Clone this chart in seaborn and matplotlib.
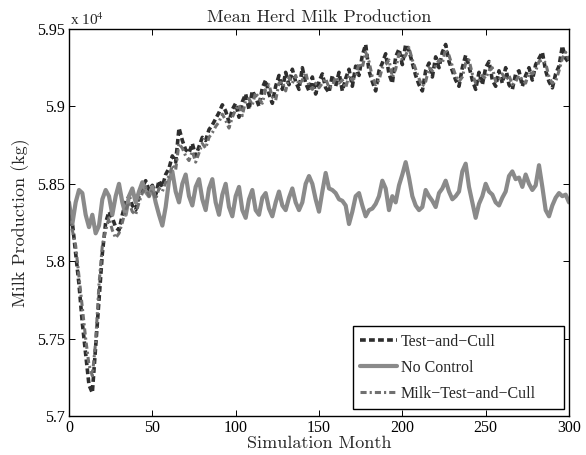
import numpy as np
import matplotlib
matplotlib.use("Agg")
import matplotlib.pyplot as plt
from matplotlib.patches import Rectangle
import seaborn as sns

# simulation month, sampled every 2 months
months = np.arange(0, 301, 2)

# mean herd milk production (kg)
test_and_cull = [
    58350, 58250, 58050, 57850, 57600, 57400, 57200, 57150, 57450, 57750,
    58050, 58250, 58320, 58280, 58220, 58200, 58300, 58380, 58420, 58360,
    58330, 58420, 58480, 58520, 58460, 58490, 58430, 58520, 58480, 58560,
    58600, 58680, 58640, 58860, 58780, 58720, 58700, 58760, 58680, 58740,
    58800, 58780, 58850, 58880, 58920, 58960, 59010, 58970, 58900, 58980,
    59020, 58930, 59030, 59080, 58980, 59100, 59060, 59000, 59120, 59170,
    59080, 59020, 59130, 59200, 59110, 59220, 59140, 59240, 59160, 59110,
    59250, 59150, 59100, 59190, 59080, 59160, 59210, 59120, 59090, 59200,
    59130, 59220, 59100, 59180, 59240, 59130, 59260, 59200, 59330, 59400,
    59230, 59160, 59100, 59230, 59280, 59340, 59210, 59150, 59320, 59370,
    59270, 59400, 59360, 59280, 59200, 59140, 59100, 59230, 59280, 59190,
    59320, 59250, 59350, 59400, 59290, 59230, 59170, 59130, 59250, 59330,
    59260, 59170, 59110, 59220, 59140, 59250, 59290, 59170, 59130, 59230,
    59150, 59250, 59140, 59110, 59210, 59230, 59130, 59200, 59250, 59170,
    59270, 59310, 59350, 59230, 59160, 59120, 59210, 59260, 59390, 59310,
    59280,
]

no_control = [
    58380, 58240, 58380, 58460, 58440, 58300, 58220, 58300, 58180, 58230,
    58400, 58460, 58420, 58300, 58420, 58500, 58380, 58300, 58420, 58470,
    58380, 58450, 58510, 58450, 58420, 58480, 58380, 58300, 58230, 58350,
    58520, 58580, 58450, 58380, 58500, 58560, 58420, 58360, 58480, 58530,
    58400, 58330, 58470, 58530, 58380, 58300, 58430, 58500, 58350, 58290,
    58420, 58480, 58330, 58280, 58400, 58460, 58330, 58300, 58410, 58440,
    58340, 58290, 58380, 58450, 58360, 58330, 58410, 58470, 58380, 58330,
    58380, 58500, 58550, 58500, 58400, 58320, 58450, 58570, 58470, 58460,
    58440, 58400, 58390, 58360, 58240, 58320, 58420, 58440, 58360, 58290,
    58330, 58340, 58370, 58420, 58520, 58470, 58330, 58420, 58380, 58490,
    58560, 58640, 58540, 58420, 58360, 58330, 58350, 58460, 58420, 58390,
    58350, 58440, 58470, 58520, 58450, 58400, 58420, 58450, 58580, 58630,
    58480, 58380, 58280, 58370, 58420, 58500, 58450, 58430, 58380, 58360,
    58410, 58450, 58550, 58580, 58530, 58540, 58480, 58560, 58500, 58460,
    58490, 58620, 58480, 58330, 58290, 58360, 58410, 58440, 58420, 58430,
    58380,
]

milk_test_and_cull = [
    58300, 58200, 58100, 57900, 57700, 57500, 57330, 57260, 57480, 57850,
    58100, 58200, 58280, 58200, 58150, 58180, 58250, 58330, 58380, 58320,
    58300, 58380, 58440, 58480, 58420, 58460, 58400, 58470, 58450, 58510,
    58550, 58620, 58590, 58760, 58730, 58680, 58650, 58710, 58640, 58700,
    58760, 58730, 58800, 58830, 58870, 58900, 58950, 58910, 58860, 58930,
    58980, 59010, 58940, 59040, 59050, 59010, 59090, 59050, 59020, 59110,
    59140, 59060, 59040, 59150, 59160, 59100, 59190, 59150, 59200, 59140,
    59170, 59220, 59130, 59110, 59150, 59120, 59150, 59180, 59120, 59130,
    59190, 59150, 59170, 59120, 59200, 59170, 59190, 59280, 59250, 59350,
    59290, 59190, 59140, 59170, 59250, 59270, 59300, 59190, 59240, 59340,
    59300, 59330, 59380, 59300, 59240, 59180, 59130, 59160, 59250, 59230,
    59260, 59300, 59280, 59370, 59330, 59260, 59200, 59160, 59190, 59280,
    59300, 59210, 59150, 59170, 59200, 59180, 59230, 59250, 59160, 59170,
    59210, 59170, 59200, 59140, 59160, 59200, 59170, 59150, 59220, 59210,
    59230, 59290, 59300, 59280, 59190, 59150, 59160, 59230, 59310, 59350,
    59300,
]

series_names = ["Test\u2212and\u2212Cull", "No Control", "Milk\u2212Test\u2212and\u2212Cull"]
y_ticks = [57000, 57500, 58000, 58500, 59000, 59500]

sns.set_style("ticks")
plt.rcParams["font.family"] = ["Liberation Serif", "DejaVu Serif"]
plt.rcParams["mathtext.fontset"] = "stix"

W, H = 586, 455
fig = plt.figure(figsize=(W / 100, H / 100), dpi=100)
ax = fig.add_axes([69 / W, 1 - 416 / H, 500 / W, 387 / H])

sns.lineplot(x=months, y=test_and_cull, ax=ax, color="#2e2e2e", lw=2.6,
             linestyle=(0, (1.6, 0.9)), label=series_names[0])
sns.lineplot(x=months, y=no_control, ax=ax, color="#8a8a8a", lw=3.0,
             linestyle="-", label=series_names[1])
sns.lineplot(x=months, y=milk_test_and_cull, ax=ax, color="#707070", lw=2.2,
             linestyle=(0, (2.0, 1.0, 0.7, 1.0)), label=series_names[2])

ax.set_xlim(0, 300)
ax.set_ylim(57000, 59500)
ax.set_xticks(np.arange(0, 301, 50))
ax.set_yticks(y_ticks)
ax.set_yticklabels([f"{v / 1e4:g}" for v in y_ticks])
ax.tick_params(direction="in", top=True, right=True, length=4.5, width=0.7,
               labelsize=11.5, colors="black")
ax.tick_params(axis="x", pad=3)
ax.tick_params(axis="y", pad=3)
for s in ax.spines.values():
    s.set_linewidth(1.0)
    s.set_color("black")

cm = dict(family="cmr10", fontsize=13)
ax.set_title("Mean Herd Milk Production", pad=5, **cm)
ax.set_xlabel("Simulation Month", labelpad=0, **cm)
ax.set_ylabel("Milk Production (kg)", labelpad=5, **cm)
ax.text(0.003, 1.003, r"x 10$^{4}$", transform=ax.transAxes, fontsize=11,
        ha="left", va="bottom")

# legend box in the MATLAB style, wider than the entries
ax.add_patch(Rectangle((353 / W, 1 - 409 / H), 211 / W, 83 / H,
                       transform=fig.transFigure, facecolor="white",
                       edgecolor="black", lw=1.0, zorder=4.9, clip_on=False))
leg = ax.legend(loc="lower left", bbox_to_anchor=(353 / W, 1 - 409 / H),
                bbox_transform=fig.transFigure, fontsize=11.5, frameon=False,
                handlelength=2.3, handletextpad=0.25, borderpad=0.45,
                labelspacing=0.62, borderaxespad=0)
leg.set_zorder(5)

fig.savefig("out.png", dpi=100)
